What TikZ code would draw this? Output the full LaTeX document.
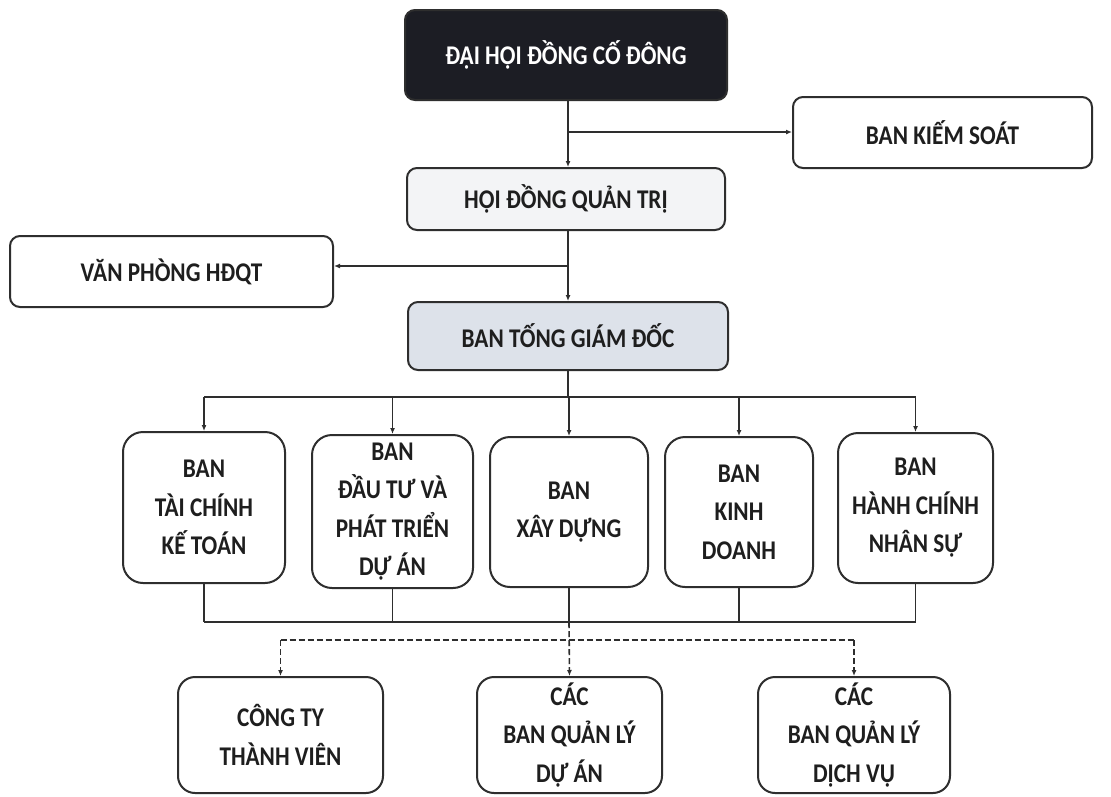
\documentclass[tikz,border=0pt]{standalone}
\usepackage{fontspec}
\setmainfont{Carlito}[FakeStretch=0.86]
\usetikzlibrary{arrows.meta}
\definecolor{ink}{HTML}{1E1E1E}
\definecolor{lineclr}{HTML}{2E2E2E}
\definecolor{topfill}{HTML}{1C1D24}
\definecolor{hdqtfill}{HTML}{F3F4F6}
\definecolor{tgdfill}{HTML}{DDE2EA}
\begin{document}
\begin{tikzpicture}[x=1pt,y=-1pt,
  box/.style={draw=lineclr, line width=2pt, rounded corners=10pt, fill=white, text=ink,
    font=\bfseries\fontsize{27}{38.5}\selectfont, align=center, inner sep=0pt},
  tallbox/.style={box, rounded corners=20pt},
  lowbox/.style={box, rounded corners=17pt},
  conn/.style={draw=lineclr, line width=1.6pt},
  conarr/.style={conn, -{Latex[length=6pt,width=5pt]}},
  dashline/.style={conn, dashed, dash pattern=on 6pt off 3pt}
]
\useasboundingbox (0,0) rectangle (1111,796);
\fill[white] (0,0) rectangle (1111,796);

% top level
\node[box, fill=topfill, text=white, minimum width=322pt, minimum height=90pt] (dh) at (566,55) {ĐẠI HỘI ĐỒNG CỐ ĐÔNG};
\node[box, minimum width=299pt, minimum height=71pt] (bks) at (942.5,132.5) {BAN KIẾM SOÁT};
\node[box, fill=hdqtfill, minimum width=318pt, minimum height=62pt] (hdqt) at (566,199) {HỘI ĐỒNG QUẢN TRỊ};
\node[box, minimum width=323pt, minimum height=71pt] (vp) at (171.5,271.5) {VĂN PHÒNG HĐQT};
\node[box, fill=tgdfill, minimum width=320pt, minimum height=68pt] (tgd) at (568,336) {BAN TỐNG GIÁM ĐỐC};

% departments
\node[tallbox, minimum width=162pt, minimum height=151pt] (b1) at (204,507.5) {BAN\\TÀI CHÍNH\\KẾ TOÁN};
\node[tallbox, minimum width=161pt, minimum height=153pt] (b2) at (392.5,511.5) {BAN\\ĐẦU TƯ VÀ\\PHÁT TRIỂN\\DỰ ÁN};
\node[tallbox, minimum width=158pt, minimum height=150pt] (b3) at (569,512) {BAN\\XÂY DỰNG};
\node[tallbox, minimum width=148pt, minimum height=150pt] (b4) at (739,512) {BAN\\KINH\\DOANH};
\node[tallbox, minimum width=155pt, minimum height=150pt] (b5) at (915.5,508) {BAN\\HÀNH CHÍNH\\NHÂN SỰ};

% bottom units
\node[lowbox, minimum width=205pt, minimum height=116pt] (c1) at (280.5,735) {CÔNG TY\\THÀNH VIÊN};
\node[lowbox, minimum width=185pt, minimum height=116pt] (c2) at (569.5,735) {CÁC\\BAN QUẢN LÝ\\DỰ ÁN};
\node[lowbox, minimum width=192pt, minimum height=116pt] (c3) at (854,735) {CÁC\\BAN QUẢN LÝ\\DỊCH VỤ};

% junctions
\coordinate (j1) at (568,132);
\coordinate (j2) at (568,266);
\coordinate (t0) at (568,397);
\coordinate (u0) at (569,622);
\coordinate (d0) at (569,640);

% upper connectors
\draw[conarr] (dh.south -| j1) -- (hdqt.north -| j1);
\draw[conarr] (j1) -- (j1 -| bks.west);
\draw[conarr] (hdqt.south -| j2) -- (tgd.north -| j2);
\draw[conarr] (j2) -- (j2 -| vp.east);

% top bus to departments
\draw[conn] (tgd.south -| t0) -- (t0);
\draw[conn] (t0 -| b1.north) -- (t0 -| b5.north);
\foreach \b in {b1,b2,b3,b4,b5}{
  \draw[conarr] (t0 -| \b.north) -- (\b.north);
}

% bottom bus
\foreach \b in {b1,b2,b3,b4,b5}{
  \draw[conn] (\b.south) -- (u0 -| \b.south);
}
\draw[conn] (u0 -| b1.south) -- (u0 -| b5.south);

% dashed links
\draw[dashline, -{Latex[length=6pt,width=5pt]}] (u0) -- (c2.north);
\draw[dashline] (d0 -| c1.north) -- (d0 -| c3.north);
\draw[dashline, -{Latex[length=6pt,width=5pt]}] (d0 -| c1.north) -- (c1.north);
\draw[dashline, -{Latex[length=6pt,width=5pt]}] (d0 -| c3.north) -- (c3.north);
\end{tikzpicture}
\end{document}
